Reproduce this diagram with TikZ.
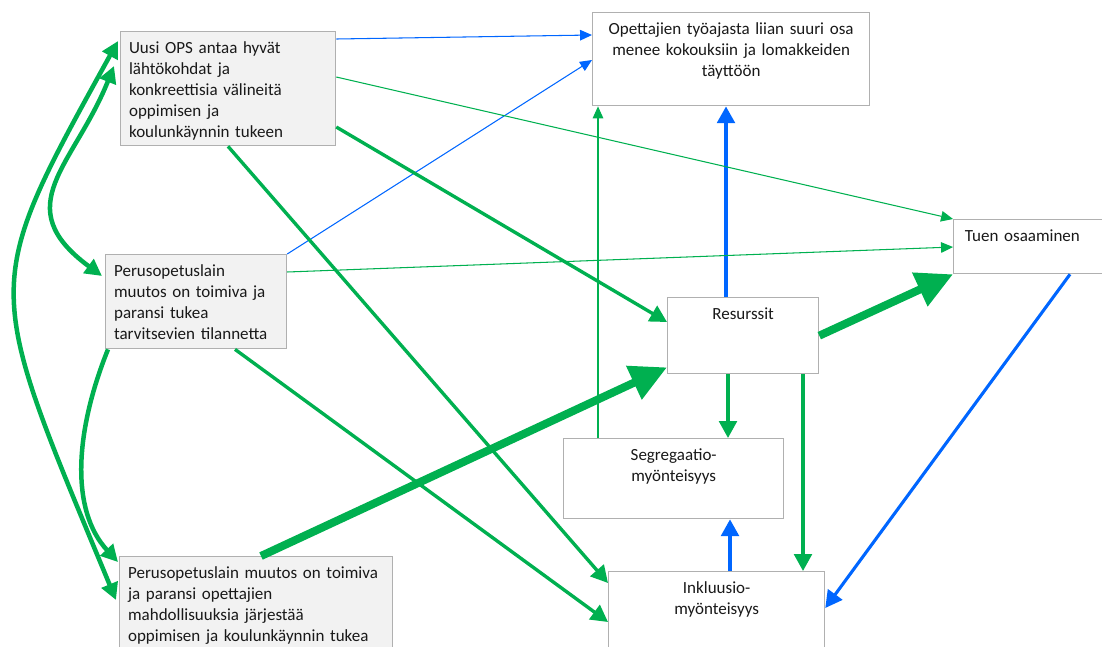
\documentclass[tikz,border=0pt]{standalone}
\usepackage{fontspec}
\setmainfont{Carlito}
\usetikzlibrary{arrows.meta,calc}

\definecolor{fgreen}{HTML}{00B050}
\definecolor{fblue}{HTML}{0066FF}
\definecolor{paper}{HTML}{F2F2F2}
\definecolor{boxline}{HTML}{B0B0B0}

\tikzset{
	card/.style={draw=boxline, line width=0.9pt, text=black!90, inner xsep=6pt, inner ysep=6.5pt,
		text height=9pt, anchor=north west, font=\fontsize{12.1}{15}\selectfont},
	greycard/.style={card, fill=paper, align=left},
	whitecard/.style={card, fill=white, align=center},
	thinlink/.style={line width=0.75pt, -{Triangle[length=8.5pt,width=7.5pt]}},
	midlink/.style={line width=2.4pt, -{Triangle[length=12pt,width=12.5pt]}},
	fatlink/.style={line width=5.7pt, -{Triangle[length=26pt,width=25pt]}},
	bendlink/.style={line width=3.2pt, >={Triangle[length=12pt,width=12pt]}},
}

\begin{document}
\begin{tikzpicture}[x=0.025cm, y=-0.025cm]
	\useasboundingbox (0,0) rectangle (1102,646);
	\clip (0,0) rectangle (1102,646);

	% boxes
	\node[greycard, text width=140.9pt, text depth=59.1pt] (ops) at (120,31)
		{Uusi OPS antaa hyvät\\lähtökohdat ja\\konkreettisia välineitä\\oppimisen ja\\koulunkäynnin tukeen};
	\node[greycard, text width=116.7pt, text depth=44.9pt] (laki) at (105,254)
		{Perusopetuslain\\muutos on toimiva ja\\paransi tukea\\tarvitsevien tilannetta};
	\node[greycard, text width=182.2pt, text depth=56.2pt] (lakiopet) at (119,556)
		{Perusopetuslain muutos on toimiva\\ja paransi opettajien\\mahdollisuuksia järjestää\\oppimisen ja koulunkäynnin tukea};
	\node[whitecard, text width=185pt, text depth=44.2pt] (tyoaika) at (592,12)
		{Opettajien työajasta liian suuri osa\\menee kokouksiin ja lomakkeiden\\täyttöön};
	\node[card, fill=white, align=left, inner xsep=8pt, text width=112pt, text depth=16.4pt] (osaaminen) at (953,219)
		{Tuen osaaminen};
	\node[whitecard, text width=95.4pt, text depth=32.1pt] (resurssit) at (667,297) {Resurssit};
	\node[whitecard, text width=144.5pt, text depth=34.9pt] (segreg) at (563,438)
		{Segregaatio-\\myönteisyys};
	\node[whitecard, text width=141.6pt, text depth=49.1pt] (inkl) at (608,571)
		{Inkluusio-\\myönteisyys};

	% blue links
	\draw[thinlink, fblue] ($(ops.north east)+(0,8)$) -- ($(tyoaika.north west)+(0,23)$);
	\draw[thinlink, fblue] (laki.north east) -- ($(tyoaika.north west)+(0,48)$);
	\draw[midlink, fblue, line width=2.8pt] ($(resurssit.north west)+(59,0)$) coordinate (r1) -- (r1 |- tyoaika.south);
	\draw[midlink, fblue, line width=2.2pt] ($(osaaminen.south west)+(117,0)$) -- ($(inkl.north east)+(0,37)$);
	\draw[midlink, fblue, line width=2.8pt] ($(inkl.north west)+(122,0)$) coordinate (i1) -- (i1 |- segreg.south);

	% green links
	\draw[thinlink, fgreen] ($(ops.north east)+(0,46)$) -- (osaaminen.north west);
	\draw[thinlink, fgreen] ($(laki.north east)+(0,18)$) -- ($(osaaminen.north west)+(0,28)$);
	\draw[thinlink, fgreen] ($(segreg.north west)+(35,0)$) coordinate (s1) -- (s1 |- tyoaika.south);
	\draw[midlink, fgreen] ($(ops.north east)+(0,96)$) -- ($(resurssit.north west)+(0,25)$);
	\draw[midlink, fgreen] ($(ops.south west)+(108,0)$) -- ($(inkl.north west)+(0,12)$);
	\draw[midlink, fgreen] ($(laki.south west)+(130,0)$) -- ($(inkl.north west)+(0,51)$);
	\draw[midlink, fgreen] ($(resurssit.south west)+(61,0)$) coordinate (r2) -- (r2 |- segreg.north);
	\draw[midlink, fgreen] ($(resurssit.south west)+(136,0)$) coordinate (r3) -- (r3 |- inkl.north);
	\draw[fatlink, fgreen] ($(lakiopet.north west)+(142,0)$) -- ($(resurssit.south west)+(0,-7)$);
	\draw[fatlink, fgreen] (resurssit.east) -- (osaaminen.south west);

	% curved links on the left
	\draw[bendlink, fgreen, <->] ($(ops.north west)+(-6,35)$) .. controls +(-40,100) and +(-95,-70) .. ($(laki.north west)+(-3,22)$);
	\draw[bendlink, fgreen, <->] ($(ops.north west)+(-2,10)$) .. controls +(-138,250) and +(-133,-320) .. ($(lakiopet.north west)+(-3,44)$);
	\draw[bendlink, fgreen, ->] ($(laki.south west)+(3,0)$) .. controls +(-33,82) and +(-48,-52) .. ($(lakiopet.north west)+(-1,6)$);
\end{tikzpicture}
\end{document}
